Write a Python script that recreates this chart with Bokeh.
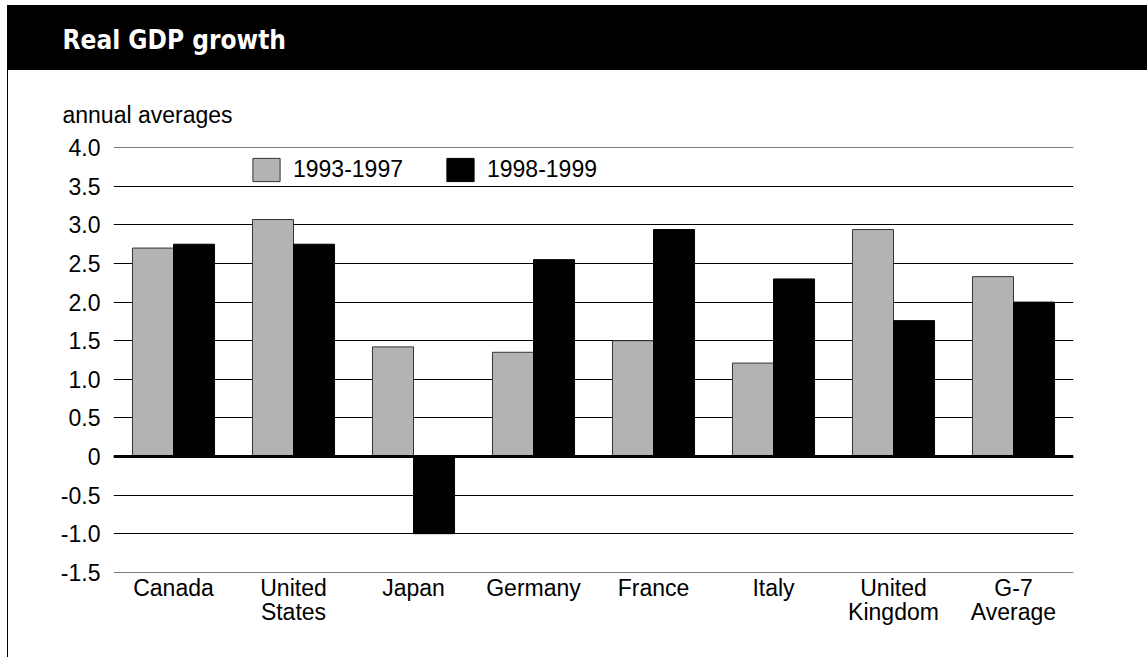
from bokeh.plotting import figure
from bokeh.models import (ColumnDataSource, FactorRange, Range1d, FixedTicker, Span,
                          CustomJSTickFormatter, Title, Legend, CategoricalAxis)
from bokeh.transform import dodge
from bokeh.layouts import column
from bokeh.embed import file_html
from bokeh.resources import INLINE

categories = ["Canada", "United States", "Japan", "Germany", "France", "Italy",
              "United Kingdom", "G-7 Average"]
label_line1 = ["Canada", "United", "Japan", "Germany", "France", "Italy", "United", "G-7"]
label_line2 = ["", "States", "", "", "", "", "Kingdom", "Average"]
growth_93_97 = [2.70, 3.07, 1.42, 1.35, 1.50, 1.21, 2.94, 2.33]
growth_98_99 = [2.75, 2.75, -1.00, 2.55, 2.94, 2.30, 1.76, 2.00]
series_names = ["1993-1997", "1998-1999"]
y_ticks = [-1.5, -1.0, -0.5, 0.0, 0.5, 1.0, 1.5, 2.0, 2.5, 3.0, 3.5, 4.0]

FONT = "Liberation Sans"
FS = "23px"

src = ColumnDataSource(dict(cat=categories, a=growth_93_97, b=growth_98_99))

# --- title bar ---
t = figure(width=1140, height=65, x_range=Range1d(0, 1), y_range=Range1d(0, 1),
           toolbar_location=None, output_backend="svg",
           min_border_left=105, min_border_right=75, min_border_top=55, min_border_bottom=0,
           styles={"background-color": "black"})
t.axis.visible = False
t.grid.visible = False
t.outline_line_color = None
t.background_fill_alpha = 0
t.border_fill_alpha = 0
t.add_layout(Title(text="Real GDP growth", align="left", offset=-50, standoff=12,
                   text_color="white", text_font="'DejaVu Sans Condensed', 'Roboto', sans-serif",
                   text_font_style="bold", text_font_size="26px"), "above")

# --- main chart ---
p = figure(width=1140, height=587,
           x_range=FactorRange(*categories, range_padding=0, factor_padding=0),
           y_range=Range1d(-1.503, 4.003), toolbar_location=None, output_backend="svg",
           min_border_left=105, min_border_right=75, min_border_top=77, min_border_bottom=85,
           styles={"border-left": "1px solid black"})
p.outline_line_color = None
p.background_fill_color = "white"
p.border_fill_color = "white"

p.add_layout(Title(text="annual averages", align="left", text_font=FONT, text_font_size=FS,
                   text_font_style="normal", text_color="black", offset=-51, standoff=39), "above")

w = 0.342
r1 = p.vbar(x=dodge("cat", -w / 2, range=p.x_range), top="a", bottom=0, width=w, source=src,
            fill_color="#b3b3b3", line_color="#333333", line_width=1)
r2 = p.vbar(x=dodge("cat", w / 2, range=p.x_range), top="b", bottom=0, width=w, source=src,
            fill_color="black", line_color="black", line_width=1)

p.add_layout(Span(location=0, dimension="width", line_color="black", line_width=3))

p.xgrid.visible = False
p.ygrid.ticker = FixedTicker(ticks=y_ticks)
p.ygrid.grid_line_color = "black"
p.ygrid.grid_line_width = 1

p.yaxis.ticker = FixedTicker(ticks=y_ticks)
p.yaxis.formatter = CustomJSTickFormatter(code="return tick == 0 ? '0' : tick.toFixed(1);")

x2 = CategoricalAxis()
p.add_layout(x2, "below")

for ax in (p.xaxis[0], x2, p.yaxis[0]):
    ax.axis_line_color = None
    ax.major_tick_line_color = None
    ax.minor_tick_line_color = None
    ax.major_tick_out = 0
    ax.major_tick_in = 0
    ax.major_label_text_font = FONT
    ax.major_label_text_font_size = FS
    ax.major_label_text_color = "black"

line_code = "const i = cats.indexOf(tick); return i >= 0 ? lines[i] : tick;"
p.xaxis[0].formatter = CustomJSTickFormatter(args=dict(cats=categories, lines=label_line1),
                                             code=line_code)
x2.formatter = CustomJSTickFormatter(args=dict(cats=categories, lines=label_line2),
                                     code=line_code)
p.yaxis.major_label_standoff = 13
p.xaxis[0].major_label_standoff = 2
x2.major_label_standoff = -5

legend = Legend(items=[(series_names[0], [r1]), (series_names[1], [r2])],
                location=(136, 388), orientation="horizontal", padding=0, margin=0,
                spacing=40, glyph_width=34, glyph_height=29, label_standoff=10,
                label_text_font=FONT, label_text_font_size=FS, label_text_color="black",
                label_height=29, border_line_color=None, background_fill_alpha=0)
p.add_layout(legend, "center")

layout = column(t, p, spacing=0, margin=(5, 0, 0, 7))
open("out.html", "w").write(file_html(layout, INLINE))
